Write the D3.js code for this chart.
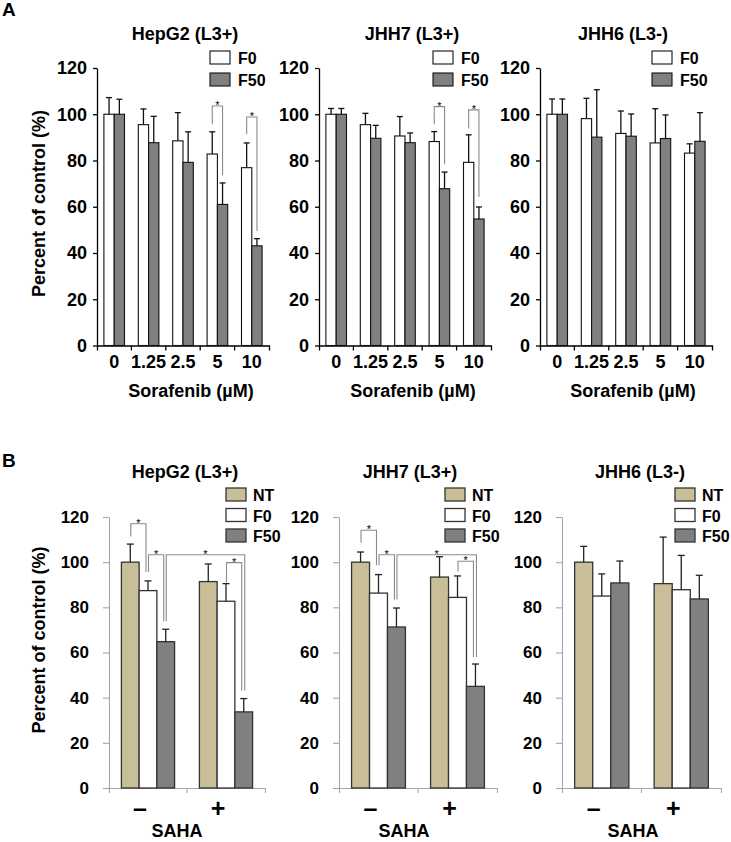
<!DOCTYPE html>
<html><head><meta charset="utf-8">
<script src="https://cdn.jsdelivr.net/npm/d3@7"></script>
<style>body{margin:0;background:#fff}</style>
</head><body>
<svg id="c" width="731" height="842"></svg>
<script>
// ---------------- DATA ----------------
const doses = ["0", "1.25", "2.5", "5", "10"];
const sahaLabels = ["\u2013", "+"];
const yTicks = [0, 20, 40, 60, 80, 100, 120];
const seriesA = ["F0", "F50"];
const seriesB = ["NT", "F0", "F50"];

// Panel A (mean, SD)
const hepg2A_F0 = [100, 95.5, 88.5, 82.8, 76.9];
const hepg2A_F0_sd = [7.2, 6.8, 12.2, 9.6, 10.7];
const hepg2A_F50 = [100, 87.7, 79.2, 61.0, 43.1];
const hepg2A_F50_sd = [6.5, 11.4, 13.2, 9.3, 3.1];
const jhh7A_F0 = [100, 95.5, 90.6, 88.2, 79.2];
const jhh7A_F0_sd = [2.5, 4.9, 8.4, 4.3, 11.9];
const jhh7A_F50 = [100, 89.6, 87.7, 67.8, 54.7];
const jhh7A_F50_sd = [2.5, 5.6, 4.2, 7.2, 5.2];
const jhh6A_F0 = [100, 98.1, 91.7, 87.6, 83.2];
const jhh6A_F0_sd = [6.6, 8.8, 9.7, 14.8, 4.0];
const jhh6A_F50 = [100, 90.1, 90.5, 89.5, 88.3];
const jhh6A_F50_sd = [6.6, 20.5, 9.6, 10.2, 12.4];

// Panel B (mean, SD)
const hepg2B_NT = [100, 91.4];
const hepg2B_NT_sd = [8.0, 7.8];
const hepg2B_F0 = [87.4, 82.7];
const hepg2B_F0_sd = [4.3, 7.8];
const hepg2B_F50 = [64.8, 33.7];
const hepg2B_F50_sd = [5.5, 5.9];
const jhh7B_NT = [100, 93.4];
const jhh7B_NT_sd = [4.5, 9.0];
const jhh7B_F0 = [86.3, 84.4];
const jhh7B_F0_sd = [8.2, 9.5];
const jhh7B_F50 = [71.3, 45.0];
const jhh7B_F50_sd = [8.4, 9.9];
const jhh6B_NT = [100, 90.5];
const jhh6B_NT_sd = [7.0, 20.6];
const jhh6B_F0 = [85.0, 87.8];
const jhh6B_F0_sd = [9.8, 15.2];
const jhh6B_F50 = [90.8, 83.7];
const jhh6B_F50_sd = [9.7, 10.5];

// significance brackets: [seriesFrom, catFrom, seriesTo, catTo, topValue, leftBottomValue, rightBottomValue]
const hepg2A_sig = [["F0", 3, "F50", 3, 103.6, 95.7, 73.6], ["F0", 4, "F50", 4, 98.8, 91.3, 49.5]];
const jhh7A_sig = [["F0", 3, "F50", 3, 103.3, 95.7, 78.4], ["F0", 4, "F50", 4, 101.9, 93.8, 64.2]];
const jhh6A_sig = [];
const hepg2B_sig = [["NT", 0, "F0", 0, 117, 111.4, 95.6], ["F0", 0, "F50", 0, 103.3, 95.6, 73.8],
                    ["F50", 0, "F50", 1, 103.3, 73.8, 43.2], ["F0", 1, "F50", 1, 99.8, 91.0, 43.2]];
const jhh7B_sig = [["NT", 0, "F0", 0, 114.1, 108.6, 98.6], ["F0", 0, "F50", 0, 103.3, 98.6, 83.5],
                   ["F50", 0, "F50", 1, 103.3, 83.5, 58.0], ["F0", 1, "F50", 1, 100.4, 95.9, 58.0]];
const jhh6B_sig = [];

// ---------------- DRAW ----------------
const FONT = '"Liberation Sans", Arial, Helvetica, sans-serif';
const fills = { NT: "#c8bf99", F0: "#ffffff", F50: "#808080" };
const svg = d3.select("#c");

function txt(sel, s, x, y, size, opts = {}) {
  return sel.append("text").attr("x", x).attr("y", y).text(s)
    .attr("font-family", FONT).attr("font-weight", opts.weight || "bold")
    .attr("font-size", size).attr("fill", opts.fill || "#000")
    .attr("text-anchor", opts.anchor || "start");
}

function chart(cfg) {
  const g = svg.append("g");
  const x = d3.scaleBand().domain(cfg.cats).range(cfg.xr).paddingInner(0).paddingOuter(0);
  const xs = d3.scaleBand().domain(cfg.series.map(s => s.name)).range([0, x.bandwidth()])
    .paddingInner(0).paddingOuter(cfg.pad);
  const y = d3.scaleLinear().domain([0, 120]).range(cfg.yr);
  const bw = xs.bandwidth();
  const cx = (s, i) => x(cfg.cats[i]) + xs(s) + bw / 2;

  // y axis
  const ya = g.append("g").attr("transform", `translate(${cfg.xr[0]},0)`)
    .call(d3.axisLeft(y).tickValues(yTicks).tickSize(cfg.yTick).tickSizeOuter(0).tickPadding(cfg.yPad));
  ya.attr("font-family", FONT).attr("font-size", cfg.yFont).attr("font-weight", "bold");
  ya.select(".domain").attr("stroke", cfg.axisColor).attr("stroke-width", cfg.axisW);
  ya.selectAll(".tick line").attr("stroke", cfg.axisColor).attr("stroke-width", cfg.axisW);
  ya.selectAll(".tick text").attr("fill", "#000");

  // x axis
  const xa = g.append("g").attr("transform", `translate(0,${cfg.yr[0]})`)
    .call(d3.axisBottom(x).tickSize(0).tickSizeOuter(cfg.xTick).tickPadding(cfg.xPad));
  xa.attr("font-family", FONT).attr("font-size", cfg.xFont).attr("font-weight", "bold");
  xa.select(".domain").attr("stroke", cfg.axisColor).attr("stroke-width", cfg.axisW);
  xa.selectAll(".tick text").attr("fill", "#000").attr("dx", cfg.xLabelShift);
  xa.selectAll(".bnd").data(cfg.cats.slice(1)).join("line").attr("class", "bnd")
    .attr("x1", d => x(d)).attr("x2", d => x(d)).attr("y1", 0).attr("y2", cfg.xTick)
    .attr("stroke", cfg.axisColor).attr("stroke-width", cfg.axisW);

  // bars
  cfg.series.forEach(s => {
    const d = cfg.cats.map((c, i) => ({ c, v: s.values[i], e: s.sd[i] }));
    g.append("g").selectAll("rect").data(d).join("rect")
      .attr("x", p => x(p.c) + xs(s.name)).attr("y", p => y(p.v))
      .attr("width", bw).attr("height", p => y(0) - y(p.v))
      .attr("fill", fills[s.name]).attr("stroke", cfg.barStroke).attr("stroke-width", cfg.barW);
  });
  // error bars
  cfg.series.forEach(s => {
    const d = cfg.cats.map((c, i) => ({ c, v: s.values[i], e: s.sd[i] }));
    const eg = g.append("g").attr("stroke", cfg.errColor).attr("stroke-width", cfg.errW);
    eg.selectAll("line.w").data(d).join("line").attr("class", "w")
      .attr("x1", p => x(p.c) + xs(s.name) + bw / 2).attr("x2", p => x(p.c) + xs(s.name) + bw / 2)
      .attr("y1", p => y(p.v)).attr("y2", p => y(p.v + p.e));
    eg.selectAll("line.cap").data(d).join("line").attr("class", "cap")
      .attr("x1", p => x(p.c) + xs(s.name) + bw / 2 - cfg.cap / 2)
      .attr("x2", p => x(p.c) + xs(s.name) + bw / 2 + cfg.cap / 2)
      .attr("y1", p => y(p.v + p.e)).attr("y2", p => y(p.v + p.e));
  });

  // significance brackets
  cfg.sig.forEach(b => {
    const [sa, ia, sb, ib, top, lb, rb] = b;
    const shared = cfg.sig.some(o => o !== b && o[2] === sb && o[3] === ib && o[4] < top);
    const xl = cx(sa, ia) + cfg.legL;
    const xr = cx(sb, ib) + (shared ? cfg.legOuter : cfg.legR);
    g.append("path").attr("d", `M${xl},${y(lb)}V${y(top)}H${xr}V${y(rb)}`)
      .attr("fill", "none").attr("stroke", "#8a8a8a").attr("stroke-width", 1.1);
    txt(g, "*", (xl + xr) / 2, y(top) + 3, 11, { anchor: "middle", weight: "normal", fill: "#000" });
  });

  // title
  txt(g, cfg.title, cfg.titleX, cfg.titleY, 18, { anchor: "middle" });
  // legend
  cfg.series.forEach((s, i) => {
    const ty = cfg.legY + i * cfg.legStep;
    g.append("rect").attr("x", cfg.legX).attr("y", ty).attr("width", 20).attr("height", 13)
      .attr("fill", fills[s.name]).attr("stroke", cfg.barStroke).attr("stroke-width", cfg.barW);
    txt(g, s.name, cfg.legX + cfg.legTextDx, ty + 13, cfg.legFont);
  });
  // x title
  txt(g, cfg.xTitle, cfg.xTitleX, cfg.xTitleY, 18, { anchor: "middle" });
  // y title
  if (cfg.yTitle) {
    g.append("text").attr("transform", `translate(${cfg.yTitleX},${cfg.yTitleY}) rotate(-90)`)
      .attr("text-anchor", "middle").attr("dominant-baseline", "central")
      .attr("font-family", FONT).attr("font-weight", "bold").attr("font-size", 18).text(cfg.yTitle);
  }
}

const baseA = {
  cats: doses, yr: [345.5, 68], pad: 0.67, yTick: 4, yPad: 6, yFont: 18,
  xTick: 5, xPad: 9.7, xFont: 18, xLabelShift: 0, axisColor: "#000", axisW: 1.3,
  barStroke: "#111", barW: 1.1, errColor: "#111", errW: 1.3, cap: 6,
  legL: 0, legR: 0, legOuter: 0, legY: 51, legStep: 22, legTextDx: 28, legFont: 16,
  titleY: 40, xTitle: "Sorafenib (\u00b5M)", xTitleY: 397, yTitleX: 39, yTitleY: 203.5
};
const baseB = {
  cats: sahaLabels, yr: [788, 517], pad: 0.7, yTick: 6, yPad: 14, yFont: 17,
  xTick: 5, xPad: 11, xFont: 25, xLabelShift: -8, axisColor: "#a6a6a6", axisW: 1.1,
  barStroke: "#333", barW: 1.3, errColor: "#222", errW: 1.3, cap: 7,
  legL: 0.5, legR: -2, legOuter: 1, legY: 488, legStep: 20.5, legTextDx: 27, legFont: 16,
  titleY: 478, xTitle: "SAHA", xTitleY: 837, yTitleX: 39, yTitleY: 640
};

chart(Object.assign({}, baseA, {
  xr: [97, 269], title: "HepG2 (L3+)", titleX: 185, legX: 210, xTitleX: 191,
  yTitle: "Percent of control (%)", sig: hepg2A_sig,
  series: [{ name: "F0", values: hepg2A_F0, sd: hepg2A_F0_sd }, { name: "F50", values: hepg2A_F50, sd: hepg2A_F50_sd }]
}));
chart(Object.assign({}, baseA, {
  xr: [319, 491], title: "JHH7 (L3+)", titleX: 412, legX: 433, xTitleX: 413, sig: jhh7A_sig,
  series: [{ name: "F0", values: jhh7A_F0, sd: jhh7A_F0_sd }, { name: "F50", values: jhh7A_F50, sd: jhh7A_F50_sd }]
}));
chart(Object.assign({}, baseA, {
  xr: [540, 712], title: "JHH6 (L3-)", titleX: 623, legX: 652, xTitleX: 633, sig: jhh6A_sig,
  series: [{ name: "F0", values: jhh6A_F0, sd: jhh6A_F0_sd }, { name: "F50", values: jhh6A_F50, sd: jhh6A_F50_sd }]
}));

chart(Object.assign({}, baseB, {
  xr: [109, 265], title: "HepG2 (L3+)", titleX: 185, legX: 226, xTitleX: 177,
  yTitle: "Percent of control (%)", sig: hepg2B_sig,
  series: [{ name: "NT", values: hepg2B_NT, sd: hepg2B_NT_sd }, { name: "F0", values: hepg2B_F0, sd: hepg2B_F0_sd },
           { name: "F50", values: hepg2B_F50, sd: hepg2B_F50_sd }]
}));
chart(Object.assign({}, baseB, {
  xr: [339, 497], title: "JHH7 (L3+)", titleX: 410, legX: 445, xTitleX: 404, sig: jhh7B_sig,
  series: [{ name: "NT", values: jhh7B_NT, sd: jhh7B_NT_sd }, { name: "F0", values: jhh7B_F0, sd: jhh7B_F0_sd },
           { name: "F50", values: jhh7B_F50, sd: jhh7B_F50_sd }]
}));
chart(Object.assign({}, baseB, {
  xr: [562, 721], title: "JHH6 (L3-)", titleX: 640, legX: 675, xTitleX: 633, sig: jhh6B_sig,
  series: [{ name: "NT", values: jhh6B_NT, sd: jhh6B_NT_sd }, { name: "F0", values: jhh6B_F0, sd: jhh6B_F0_sd },
           { name: "F50", values: jhh6B_F50, sd: jhh6B_F50_sd }]
}));

// panel letters
txt(svg, "A", 2, 16, 19);
txt(svg, "B", 2, 467, 19);
</script>
</body></html>
